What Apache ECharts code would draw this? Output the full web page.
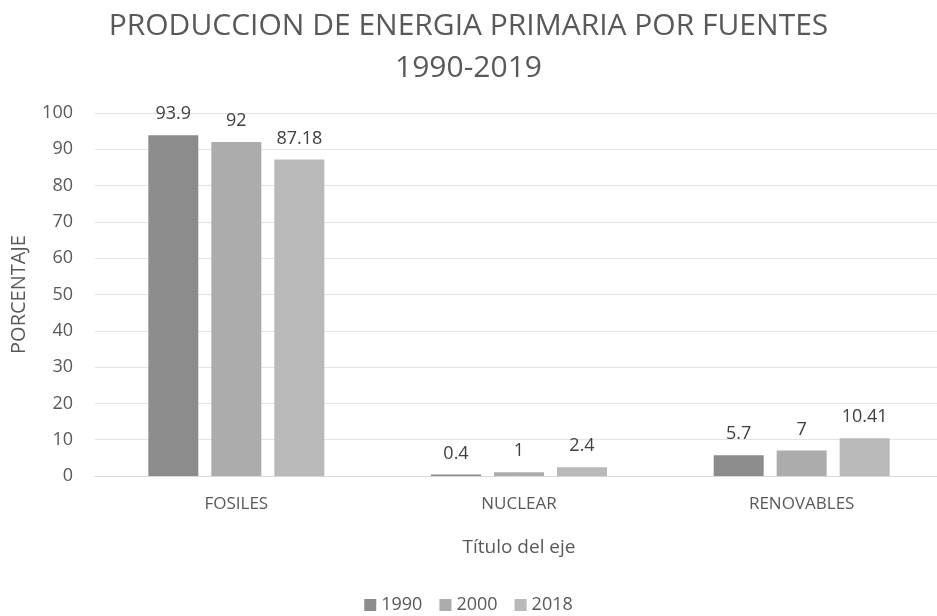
<!DOCTYPE html>
<html lang="es">
<head>
    <meta charset="UTF-8">
    <title>Produccion de energia primaria</title>
    <script src="https://cdn.jsdelivr.net/npm/echarts@6/dist/echarts.min.js"></script>
    <style>
        body { margin: 0; background: #fff; }
    </style>
</head>
<body>
    <div id="main" style="width: 937px;height:616px;"></div>
    <script>
        // datos
        var categorias = ['FOSILES', 'NUCLEAR', 'RENOVABLES'];
        var anios = ['1990', '2000', '2018'];
        var v1990 = [93.9, 0.4, 5.7];
        var v2000 = [92, 1, 7];
        var v2018 = [87.18, 2.4, 10.41];
        var colores = ['#8c8c8c', '#acacac', '#b9b9b9'];

        var fuente = '"Open Sans", "Noto Sans", sans-serif';

        function serie(nombre, datos, color) {
            return {
                name: nombre,
                type: 'bar',
                data: datos,
                barWidth: 50,
                barGap: '26%',
                itemStyle: { color: color },
                label: {
                    show: true,
                    position: 'top',
                    distance: 12,
                    color: '#404040',
                    fontSize: 18,
                    fontFamily: fuente
                }
            };
        }

        var myChart = echarts.init(document.getElementById('main'));
        var option = {
            animation: false,
            title: {
                text: 'PRODUCCION DE ENERGIA PRIMARIA POR FUENTES\n1990-2019',
                left: 'center',
                top: 0,
                textStyle: {
                    color: '#595959',
                    fontSize: 30,
                    fontWeight: 'normal',
                    fontFamily: fuente,
                    lineHeight: 42
                }
            },
            legend: {
                data: anios,
                bottom: -3,
                left: 'center',
                itemWidth: 12,
                itemHeight: 12,
                itemGap: 17,
                icon: 'rect',
                textStyle: { color: '#595959', fontSize: 18, fontFamily: fuente }
            },
            grid: {
                left: 95,
                right: -6,
                top: 113,
                bottom: 140,
                containLabel: false,
                outerBoundsMode: 'none'
            },
            xAxis: {
                type: 'category',
                data: categorias,
                name: 'Título del eje',
                nameLocation: 'middle',
                nameGap: 62,
                nameTextStyle: { color: '#595959', fontSize: 19, fontFamily: fuente },
                axisLine: { show: true, lineStyle: { color: '#d9d9d9' } },
                axisTick: { show: false },
                axisLabel: { color: '#595959', fontSize: 17, margin: 20, fontFamily: fuente }
            },
            yAxis: {
                type: 'value',
                min: 0,
                max: 100,
                interval: 10,
                name: 'PORCENTAJE',
                nameLocation: 'middle',
                nameGap: 66,
                nameTextStyle: { color: '#595959', fontSize: 20, fontFamily: fuente },
                axisLine: { show: false },
                axisTick: { show: false },
                axisLabel: { color: '#595959', fontSize: 18, margin: 22, fontFamily: fuente },
                splitLine: { lineStyle: { color: '#e3e3e3', width: 1 } }
            },
            series: [
                serie(anios[0], v1990, colores[0]),
                serie(anios[1], v2000, colores[1]),
                serie(anios[2], v2018, colores[2])
            ]
        };
        myChart.setOption(option);
    </script>
</body>
</html>
